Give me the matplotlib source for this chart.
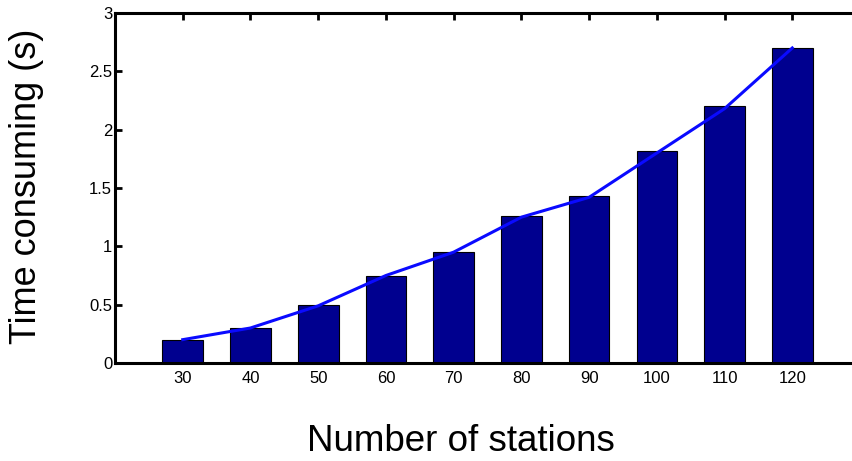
import matplotlib.pyplot as plt

plt.rcParams['font.family'] = ['Liberation Sans', 'DejaVu Sans']

# Data
stations = [30, 40, 50, 60, 70, 80, 90, 100, 110, 120]
time_bar = [0.2, 0.3, 0.5, 0.75, 0.95, 1.26, 1.43, 1.82, 2.2, 2.7]
time_line = [0.2, 0.3, 0.49, 0.75, 0.95, 1.25, 1.42, 1.8, 2.18, 2.7]
y_ticks = [0, 0.5, 1, 1.5, 2, 2.5, 3]
y_labels = ["0", "0.5", "1", "1.5", "2", "2.5", "3"]

W, H = 852, 461
fig = plt.figure(figsize=(W / 100, H / 100), dpi=100)
ax = fig.add_axes([115 / W, (H - 363) / H, 745 / W, 350 / H])

ax.bar(stations, time_bar, width=6, color="#00008f", edgecolor="black", linewidth=0.8, zorder=2)
ax.plot(stations, time_line, color="#0a0aff", linewidth=2.2, zorder=3)

ax.set_xlim(20, 130)
ax.set_ylim(0, 3)
ax.set_xticks(stations)
ax.set_xticklabels([str(s) for s in stations], fontsize=12)
ax.set_yticks(y_ticks)
ax.set_yticklabels(y_labels, fontsize=12)
ax.tick_params(direction="in", length=5, width=2, top=True, right=True)
ax.tick_params(axis="y", pad=2)
ax.tick_params(axis="x", pad=6)
for sp in ax.spines.values():
    sp.set_linewidth(2.2)

fig.text(27 / W, 1 - 186 / H, "Time consuming (s)", rotation=90, fontsize=26,
         ha="center", va="center")
fig.text(461 / W, 1 - 441 / H, "Number of stations", fontsize=26.5,
         ha="center", va="center")

fig.savefig("out.png", dpi=100)
